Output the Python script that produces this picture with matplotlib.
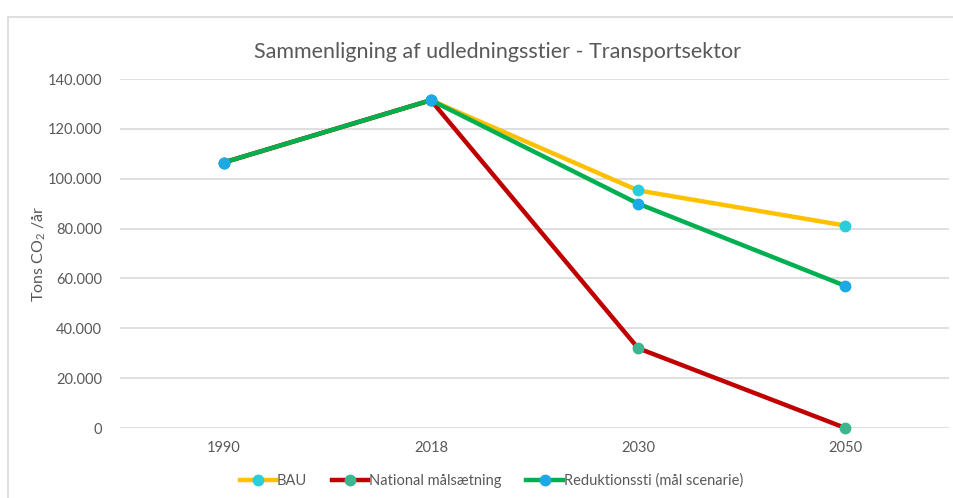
import matplotlib
matplotlib.use("Agg")
import matplotlib.pyplot as plt
from matplotlib.patches import Rectangle
from matplotlib.ticker import FuncFormatter

plt.rcParams['font.family'] = ['Lato', 'DejaVu Sans']

years = ["1990", "2018", "2030", "2050"]
bau = [106500, 131500, 95300, 81200]
national = [106500, 131500, 32000, 0]
reduktion = [106500, 131500, 90000, 57000]
yticks = [0, 20000, 40000, 60000, 80000, 100000, 120000, 140000]

grey = "#595959"
fig = plt.figure(figsize=(9.54, 4.98), dpi=100)
ax = fig.add_axes([120/954, 70/498, 829/954, 349/498])

x = list(range(len(years)))
ax.plot(x, bau, color="#FFC000", lw=3.2, marker="o", ms=7.5,
        mfc="#2ACDDA", mec="#2ACDDA", label="BAU", zorder=3, clip_on=False)
ax.plot(x, national, color="#C00000", lw=3.2, marker="o", ms=7.5,
        mfc="#3DB58F", mec="#3DB58F", label="National målsætning", zorder=4, clip_on=False)
ax.plot(x, reduktion, color="#00B050", lw=3.2, marker="o", ms=7.5,
        mfc="#1CA9E6", mec="#1CA9E6", label="Reduktionssti (mål scenarie)", zorder=5, clip_on=False)

ax.set_xlim(-0.5, 3.5)
ax.set_ylim(0, 140000)
ax.set_xticks(x)
ax.set_xticklabels(years)
ax.set_yticks(yticks)
ax.yaxis.set_major_formatter(FuncFormatter(lambda v, p: f"{int(v):,}".replace(",", ".")))
ax.grid(axis="y", color="#D9D9D9", lw=1.2)
ax.set_axisbelow(True)
for s in ax.spines.values():
    s.set_visible(False)
ax.tick_params(axis="both", length=0, colors=grey, labelsize=10.5, pad=9)
ax.tick_params(axis="y", pad=13)
for lab in ax.get_xticklabels() + ax.get_yticklabels():
    lab.set_color(grey)

ax.set_ylabel(r"Tons CO$_\mathregular{2}$ /år", color=grey, fontsize=11.5)
ax.yaxis.set_label_coords(-72/829, 0.5)

fig.text(0.521, 1 - 52/498, "Sammenligning af udledningsstier - Transportsektor",
         ha="center", va="center", fontsize=15.5, color=grey)

fig.legend(loc="center", bbox_to_anchor=(0.515, 1 - 481/498), ncol=3, frameon=False,
           fontsize=10.5, labelcolor=grey, handlelength=2.5, handletextpad=0.05,
           columnspacing=1.7)

fig.patches.append(Rectangle((8/954, -0.1), 1.0, 1 - 17/498 + 0.1, transform=fig.transFigure,
                             fill=False, edgecolor="#D9D9D9", lw=1.2))

fig.savefig("out.png", dpi=100)
